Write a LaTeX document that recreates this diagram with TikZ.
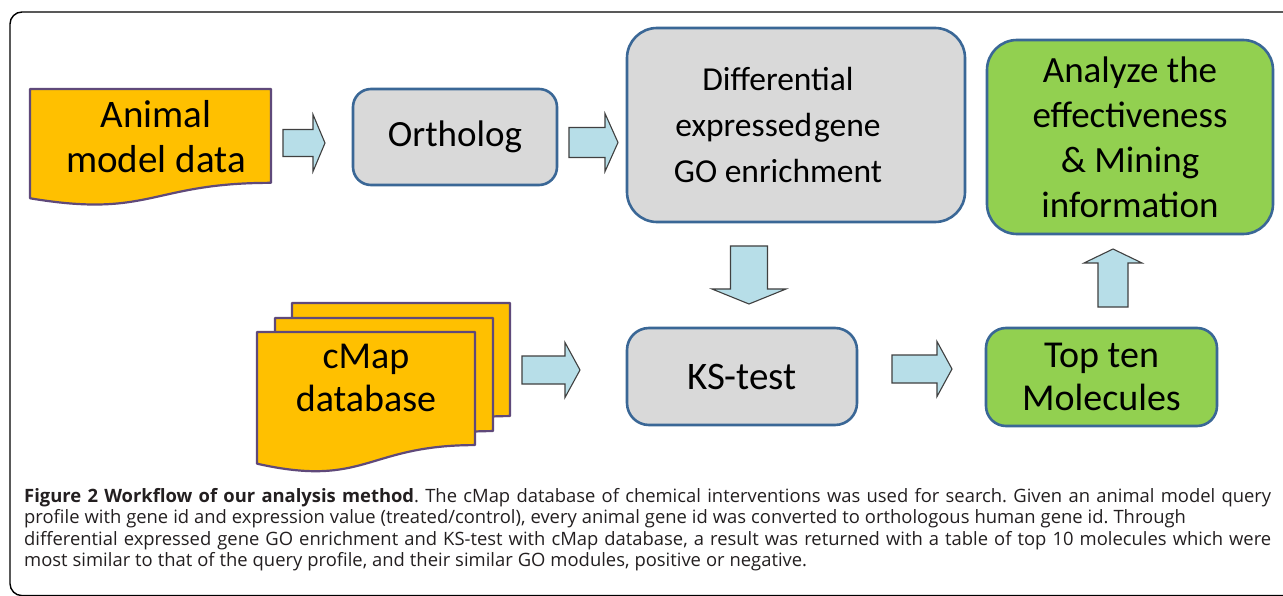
\documentclass[tikz,border=0pt]{standalone}
\usepackage{fontspec}
\setmainfont{Carlito}
\newfontfamily\capfont{Open Sans}
\definecolor{docfill}{HTML}{FFC000}
\definecolor{docline}{HTML}{5F497A}
\definecolor{grayfill}{HTML}{D9D9D9}
\definecolor{greenfill}{HTML}{92D050}
\definecolor{boxline}{HTML}{3A6796}
\definecolor{arrfill}{HTML}{B7DEE8}
\definecolor{arrline}{HTML}{404040}
\definecolor{captext}{HTML}{231F20}
\newcommand\capspace{\frenchspacing\spaceskip=0.27em plus 0.3em minus 0.08em\relax}
\tikzset{
  boxtext/.style={font=\fontsize{37}{45}\selectfont, align=center, text=black},
  procbox/.style={draw=boxline, line width=2.6pt, inner sep=0pt, boxtext},
  graybox/.style={procbox, fill=grayfill},
  greenbox/.style={procbox, fill=greenfill},
  docshape/.style={draw=docline, fill=docfill, line width=2.2pt, line join=round},
  blockarrow/.style={draw=arrline, fill=arrfill, line width=1.1pt, line join=miter},
  capline/.style={anchor=base west, inner sep=0pt, text=captext,
    font=\capfont\fontsize{18.4}{21.5}\selectfont},
}
\newcommand\harr[6]{%
  \draw[blockarrow] (#1,#3-#4) -- (#2-#6,#3-#4) -- (#2-#6,#3-#5) -- (#2,#3)
    -- (#2-#6,#3+#5) -- (#2-#6,#3+#4) -- (#1,#3+#4) -- cycle;}
% document shape: x0 y0 width height
\newcommand\docpath[4]{%
  \draw[docshape] (#1,#2) -- (#1+#3,#2) -- (#1+#3,#2+0.802*#4)
    .. controls (#1+0.5*#3,#2+0.802*#4) and (#1+0.5*#3,#2+1.1075*#4) .. (#1,#2+0.934*#4) -- cycle;}
\begin{document}
\begin{tikzpicture}[x=1pt,y=-1pt]
\useasboundingbox (0,0) rectangle (1283,596);
\clip (0,0) rectangle (1283,596);
\fill[white] (0,0) rectangle (1283,596);
% frame
\draw[black, line width=1.4pt, rounded corners=12pt] (1300,12) -- (10,12) -- (10,595.6) -- (1300,595.6);

% Animal model data
\docpath{30}{89}{241}{117}
\node[boxtext, font=\fontsize{39}{45}\selectfont] (animal) at (156,137) {Animal\\model data};

% Ortholog
\node[graybox, rounded corners=18pt, minimum width=204pt, minimum height=96pt] (orth) at (455,137) {Ortholog};

% Differential
\node[graybox, rounded corners=30pt, minimum width=338pt, minimum height=194pt] (diff) at (796,125) {};
\node[boxtext, font=\fontsize{33.5}{46}\selectfont, inner sep=0pt] (difftext) at (778,125)
  {Differential\\expressed\kern2pt gene\\GO enrichment};

% Analyze
\node[greenbox, rounded corners=30pt, minimum width=286pt, minimum height=194pt] (anal) at (1130,137)
  {Analyze the\\effectiveness\\\& Mining\\information};

% cMap stack
\docpath{292}{303}{218}{141}
\docpath{275}{318}{218}{141}
\docpath{257}{332}{218}{141}
\node[boxtext, font=\fontsize{38}{43}\selectfont] (cmap) at (366,378) {cMap\\database};

% KS-test
\node[graybox, rounded corners=22pt, minimum width=230pt, minimum height=97pt, font=\fontsize{39}{45}\selectfont] (ks) at (742,376.5) {KS-test};

% Top ten
\node[greenbox, rounded corners=20pt, minimum width=231pt, minimum height=98pt, font=\fontsize{38}{43}\selectfont] (top) at (1101.5,377) {Top ten\\Molecules};

% block arrows
\harr{283}{325}{143}{13.5}{28.5}{12}
\harr{569}{618}{142.5}{15}{29}{13}
\harr{522}{580}{370}{14}{27.5}{15}
\harr{892}{952}{369}{14}{27.5}{15}
\draw[blockarrow] (730.5,246) -- (767.5,246) -- (767.5,289) -- (786,289) -- (749,304) -- (712,289) -- (730.5,289) -- cycle;
\draw[blockarrow] (1098,307) -- (1128,307) -- (1128,263) -- (1142,263) -- (1113,249) -- (1084,263) -- (1098,263) -- cycle;

% caption
\node[capline] (c1) at (24,502) {\capspace\hbox to 1247pt{\textbf{Figure 2 Workflow of our analysis method}. The cMap database of chemical interventions was used for search. Given an animal model query}};
\node[capline] (c2) at (24,523.5) {\capspace profile with gene id and expression value (treated/control), every animal gene id was converted to orthologous human gene id. Through};
\node[capline] (c3) at (24,545) {\capspace\hbox to 1247pt{differential expressed gene GO enrichment and KS-test with cMap database, a result was returned with a table of top 10 molecules which were}};
\node[capline] (c4) at (24,566.5) {\capspace most similar to that of the query profile, and their similar GO modules, positive or negative.};
\end{tikzpicture}
\end{document}
